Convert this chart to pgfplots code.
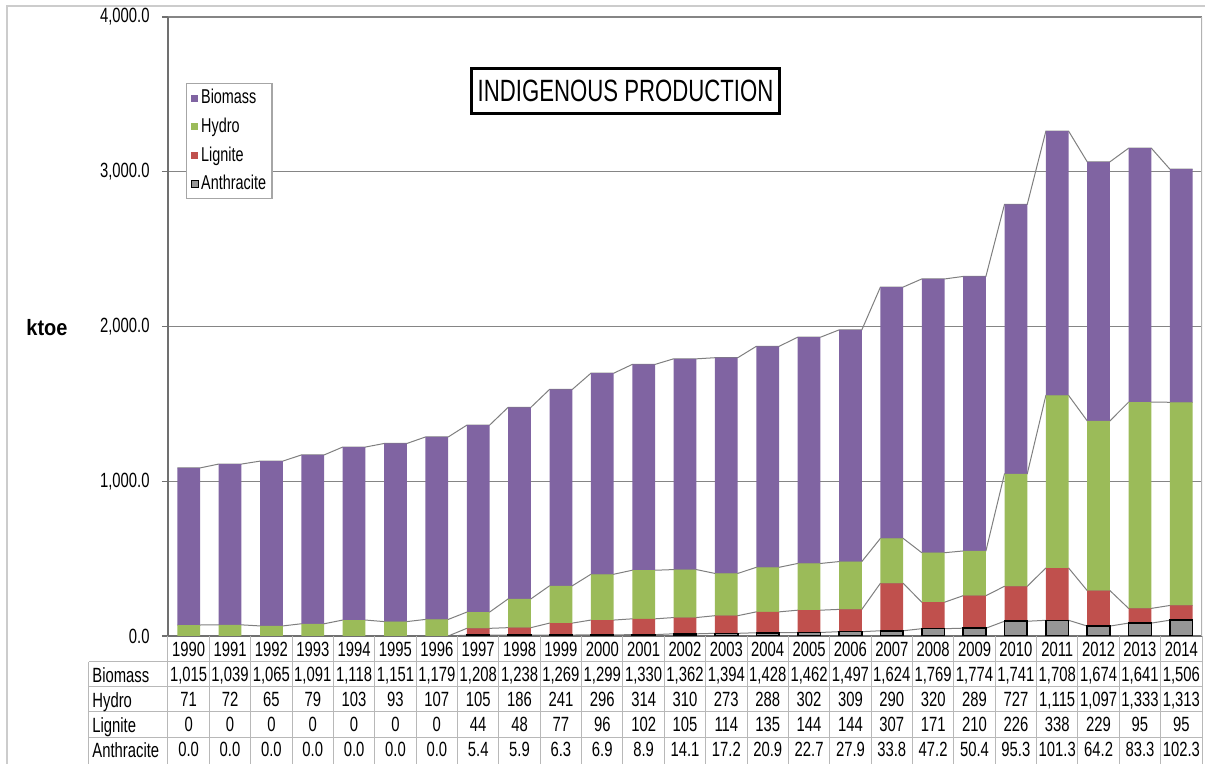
\documentclass[border=0pt]{standalone}
\usepackage{pgfplots}
\pgfplotsset{compat=1.18}
\usepackage{pgfplotstable}
\usepackage{fontspec}
\setmainfont[FakeStretch=0.72]{Liberation Sans}
\newfontfamily\ktoefont[FakeStretch=0.9]{Liberation Sans}

\definecolor{bio}{HTML}{8064A2}
\definecolor{hyd}{HTML}{9BBB59}
\definecolor{lig}{HTML}{C0504D}
\definecolor{ant}{HTML}{969696}
\definecolor{sline}{HTML}{7F7F7F}
\definecolor{tgrid}{HTML}{B8B8B8}
\definecolor{axl}{HTML}{707070}
\definecolor{gridc}{HTML}{858585}

\pgfplotstableread{
year anth lig hydro bio
1990 0.0 0 71 1015
1991 0.0 0 72 1039
1992 0.0 0 65 1065
1993 0.0 0 79 1091
1994 0.0 0 103 1118
1995 0.0 0 93 1151
1996 0.0 0 107 1179
1997 5.4 44 105 1208
1998 5.9 48 186 1238
1999 6.3 77 241 1269
2000 6.9 96 296 1299
2001 8.9 102 314 1330
2002 14.1 105 310 1362
2003 17.2 114 273 1394
2004 20.9 135 288 1428
2005 22.7 144 302 1462
2006 27.9 144 309 1497
2007 33.8 307 290 1624
2008 47.2 171 320 1769
2009 50.4 210 289 1774
2010 95.3 226 727 1741
2011 101.3 338 1115 1708
2012 64.2 229 1097 1674
2013 83.3 95 1333 1641
2014 102.3 95 1313 1506
}\data

% cumulative tops at the left and right edge of each bar (series lines)
\pgfplotstableread{
x c1 c2 c3 c4
-0.275 0 0 71 1086
0.275 0 0 71 1086
0.725 0 0 72 1111
1.275 0 0 72 1111
1.725 0 0 65 1130
2.275 0 0 65 1130
2.725 0 0 79 1170
3.275 0 0 79 1170
3.725 0 0 103 1221
4.275 0 0 103 1221
4.725 0 0 93 1244
5.275 0 0 93 1244
5.725 0 0 107 1286
6.275 0 0 107 1286
6.725 5.4 49.4 154.4 1362.4
7.275 5.4 49.4 154.4 1362.4
7.725 5.9 53.9 239.9 1477.9
8.275 5.9 53.9 239.9 1477.9
8.725 6.3 83.3 324.3 1593.3
9.275 6.3 83.3 324.3 1593.3
9.725 6.9 102.9 398.9 1697.9
10.275 6.9 102.9 398.9 1697.9
10.725 8.9 110.9 424.9 1754.9
11.275 8.9 110.9 424.9 1754.9
11.725 14.1 119.1 429.1 1791.1
12.275 14.1 119.1 429.1 1791.1
12.725 17.2 131.2 404.2 1798.2
13.275 17.2 131.2 404.2 1798.2
13.725 20.9 155.9 443.9 1871.9
14.275 20.9 155.9 443.9 1871.9
14.725 22.7 166.7 468.7 1930.7
15.275 22.7 166.7 468.7 1930.7
15.725 27.9 171.9 480.9 1977.9
16.275 27.9 171.9 480.9 1977.9
16.725 33.8 340.8 630.8 2254.8
17.275 33.8 340.8 630.8 2254.8
17.725 47.2 218.2 538.2 2307.2
18.275 47.2 218.2 538.2 2307.2
18.725 50.4 260.4 549.4 2323.4
19.275 50.4 260.4 549.4 2323.4
19.725 95.3 321.3 1048.3 2789.3
20.275 95.3 321.3 1048.3 2789.3
20.725 101.3 439.3 1554.3 3262.3
21.275 101.3 439.3 1554.3 3262.3
21.725 64.2 293.2 1390.2 3064.2
22.275 64.2 293.2 1390.2 3064.2
22.725 83.3 178.3 1511.3 3152.3
23.275 83.3 178.3 1511.3 3152.3
23.725 102.3 197.3 1510.3 3016.3
24.275 102.3 197.3 1510.3 3016.3
}\cumul

\pgfplotsset{
  common/.style={
    scale only axis, width=517pt, height=309.5pt,
    xmin=-0.5, xmax=24.5, ymin=0, ymax=4000,
  },
}

\begin{document}
\begin{tikzpicture}
% series lines (behind the bars)
\begin{axis}[common, hide axis]
  \addplot[sline, line width=0.5pt, no marks] table[x=x, y=c1] \cumul;
  \addplot[sline, line width=0.5pt, no marks] table[x=x, y=c2] \cumul;
  \addplot[sline, line width=0.5pt, no marks] table[x=x, y=c3] \cumul;
  \addplot[sline, line width=0.5pt, no marks] table[x=x, y=c4] \cumul;
\end{axis}
% stacked bars
\begin{axis}[common,
  ybar stacked, bar width=0.55,
  axis x line*=bottom, axis y line*=left,
  axis line style={axl, line width=0.7pt},
  ymajorgrids, grid style={gridc, line width=0.7pt},
  ytick={0,1000,2000,3000,4000},
  tick align=outside, major tick length=3pt,
  ytick style={axl, line width=0.7pt},
  xtick={0,...,24}, xtick style={draw=none},
  /pgf/number format/.cd, fixed, fixed zerofill, precision=1, 1000 sep={,}, assume math mode=true,
  /pgfplots/.cd,
  yticklabel style={font=\fontsize{10.3}{12}\selectfont, inner sep=0pt, anchor=east, xshift=-6pt},
  xticklabel style={font=\fontsize{10.3}{12.5}\selectfont, align=center, inner sep=0pt, anchor=north},
  xticklabels={
    {1990\\1,015\\71\\0\\0.0},
    {1991\\1,039\\72\\0\\0.0},
    {1992\\1,065\\65\\0\\0.0},
    {1993\\1,091\\79\\0\\0.0},
    {1994\\1,118\\103\\0\\0.0},
    {1995\\1,151\\93\\0\\0.0},
    {1996\\1,179\\107\\0\\0.0},
    {1997\\1,208\\105\\44\\5.4},
    {1998\\1,238\\186\\48\\5.9},
    {1999\\1,269\\241\\77\\6.3},
    {2000\\1,299\\296\\96\\6.9},
    {2001\\1,330\\314\\102\\8.9},
    {2002\\1,362\\310\\105\\14.1},
    {2003\\1,394\\273\\114\\17.2},
    {2004\\1,428\\288\\135\\20.9},
    {2005\\1,462\\302\\144\\22.7},
    {2006\\1,497\\309\\144\\27.9},
    {2007\\1,624\\290\\307\\33.8},
    {2008\\1,769\\320\\171\\47.2},
    {2009\\1,774\\289\\210\\50.4},
    {2010\\1,741\\727\\226\\95.3},
    {2011\\1,708\\1,115\\338\\101.3},
    {2012\\1,674\\1,097\\229\\64.2},
    {2013\\1,641\\1,333\\95\\83.3},
    {2014\\1,506\\1,313\\95\\102.3}},
  reverse legend,
  legend cell align=left,
  legend image code/.code={\path[#1] (0pt,-1.75pt) rectangle (3.5pt,1.75pt);},
  legend style={at={(0.0174,0.893)}, anchor=north west, draw=gray!70, line width=0.6pt,
    font=\fontsize{10}{12}\selectfont, inner xsep=2pt, inner ysep=1.5pt, row sep=2.8pt,
    nodes={inner sep=1pt, text height=7.5pt, text depth=2pt}},
]
  \addplot[fill=ant, draw=black, line width=0.8pt] table[x expr=\coordindex, y=anth] \data;
  \addplot[fill=lig, draw=none] table[x expr=\coordindex, y=lig] \data;
  \addplot[fill=hyd, draw=none] table[x expr=\coordindex, y=hydro] \data;
  \addplot[fill=bio, draw=none] table[x expr=\coordindex, y=bio] \data;
  \legend{Anthracite, Lignite, Hydro, Biomass}
  \draw[gray!60, line width=0.7pt] (rel axis cs:1,0) -- (rel axis cs:1,1);
\end{axis}

% data table grid
\begin{scope}[tgrid, line width=0.5pt]
  \foreach \yy in {-13,-25.5,-38,-51} \draw (-39.5pt,\yy pt) -- (517pt,\yy pt);
  \draw (-39.5pt,-13pt) -- (-39.5pt,-64pt);
  \foreach \k in {0,...,25} \draw (\k*20.68pt,0pt) -- (\k*20.68pt,-64pt);
\end{scope}
\begin{scope}[every node/.style={anchor=base west, inner sep=0pt, font=\fontsize{10.3}{12}\selectfont}]
  \node at (-38pt,-23.3pt) {Biomass};
  \node at (-38pt,-35.8pt) {Hydro};
  \node at (-38pt,-48.3pt) {Lignite};
  \node at (-38pt,-60.8pt) {Anthracite};
\end{scope}

% y label and title
\node at (-60.5pt,154pt) {\ktoefont\fontsize{11.1}{13}\selectfont\bfseries ktoe};
\node[draw=black, line width=1.5pt, inner sep=0pt, minimum width=154pt, minimum height=22.5pt,
  font=\fontsize{15.4}{18}\selectfont] at (228.75pt,272.5pt) {INDIGENOUS PRODUCTION};

% chart area border
\draw[gray!40, line width=0.75pt] (-80.5pt,-64pt) -- (-80.5pt,315pt) -- (518.5pt,315pt);

\pgfresetboundingbox
\path[use as bounding box] (-84pt,-64pt) rectangle (519pt,318pt);
\end{tikzpicture}
\end{document}
